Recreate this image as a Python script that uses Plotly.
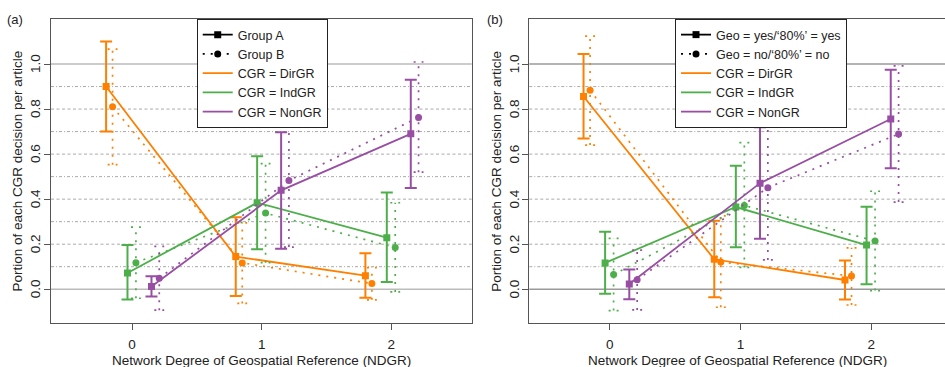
import plotly.graph_objects as go

# ---------------- data ----------------
ndgr = [0, 1, 2]
x_ticktext = ["0", "1", "2"]
y_tickvals = [0.0, 0.2, 0.4, 0.6, 0.8, 1.0]
y_ticktext = ["0.0", "0.2", "0.4", "0.6", "0.8", "1.0"]
categories = ["DirGR", "IndGR", "NonGR"]

# panel (a): Group A / Group B
a_dir_A = [0.90, 0.145, 0.060]
a_dir_A_lo = [0.70, -0.030, -0.038]
a_dir_A_hi = [1.10, 0.320, 0.160]
a_dir_B = [0.81, 0.117, 0.025]
a_dir_B_lo = [0.553, -0.063, -0.047]
a_dir_B_hi = [1.066, 0.295, 0.096]
a_ind_A = [0.072, 0.384, 0.229]
a_ind_A_lo = [-0.046, 0.177, 0.032]
a_ind_A_hi = [0.196, 0.590, 0.430]
a_ind_B = [0.118, 0.338, 0.185]
a_ind_B_lo = [-0.040, 0.118, -0.012]
a_ind_B_hi = [0.276, 0.558, 0.384]
a_non_A = [0.012, 0.439, 0.690]
a_non_A_lo = [-0.032, 0.180, 0.450]
a_non_A_hi = [0.058, 0.697, 0.930]
a_non_B = [0.049, 0.483, 0.763]
a_non_B_lo = [-0.093, 0.187, 0.520]
a_non_B_hi = [0.190, 0.786, 1.009]

# panel (b): Geo yes / Geo no
b_dir_A = [0.856, 0.133, 0.041]
b_dir_A_lo = [0.669, -0.036, -0.046]
b_dir_A_hi = [1.045, 0.304, 0.127]
b_dir_B = [0.884, 0.121, 0.059]
b_dir_B_lo = [0.640, -0.080, -0.070]
b_dir_B_hi = [1.124, 0.326, 0.184]
b_ind_A = [0.117, 0.365, 0.196]
b_ind_A_lo = [-0.020, 0.186, 0.022]
b_ind_A_hi = [0.255, 0.548, 0.366]
b_ind_B = [0.065, 0.372, 0.214]
b_ind_B_lo = [-0.095, 0.097, -0.006]
b_ind_B_hi = [0.226, 0.651, 0.435]
b_non_A = [0.023, 0.471, 0.756]
b_non_A_lo = [-0.044, 0.224, 0.537]
b_non_A_hi = [0.088, 0.719, 0.975]
b_non_B = [0.042, 0.451, 0.689]
b_non_B_lo = [-0.092, 0.130, 0.387]
b_non_B_hi = [0.174, 0.772, 0.992]

grid_solid = [0.0, 1.0]
grid_dash = [0.2, 0.4, 0.6, 0.8]
grid_dashdot = [0.1, 0.3, 0.5, 0.7, 0.9]

x_title = "Network Degree of Geospatial Reference (NDGR)"
y_title = "Portion of each CGR decision per article"

# ---------------- style ----------------
COLORS = {"DirGR": "#FF7F00", "IndGR": "#4DAF4A", "NonGR": "#984EA3"}
DODGE = {("DirGR", "A"): -0.20, ("DirGR", "B"): -0.15,
         ("IndGR", "A"): -0.035, ("IndGR", "B"): 0.03,
         ("NonGR", "A"): 0.15, ("NonGR", "B"): 0.21}
CAP_B = 0.038
DOT = "2px,6px"
FONT = "Liberation Sans, Arial, Helvetica, sans-serif"
TXT = "#222222"
FS = 13.5

panels = {
    "a": {"DirGR": (a_dir_A, a_dir_A_lo, a_dir_A_hi, a_dir_B, a_dir_B_lo, a_dir_B_hi),
          "IndGR": (a_ind_A, a_ind_A_lo, a_ind_A_hi, a_ind_B, a_ind_B_lo, a_ind_B_hi),
          "NonGR": (a_non_A, a_non_A_lo, a_non_A_hi, a_non_B, a_non_B_lo, a_non_B_hi)},
    "b": {"DirGR": (b_dir_A, b_dir_A_lo, b_dir_A_hi, b_dir_B, b_dir_B_lo, b_dir_B_hi),
          "IndGR": (b_ind_A, b_ind_A_lo, b_ind_A_hi, b_ind_B, b_ind_B_lo, b_ind_B_hi),
          "NonGR": (b_non_A, b_non_A_lo, b_non_A_hi, b_non_B, b_non_B_lo, b_non_B_hi)},
}

fig = go.Figure()

for pkey, xa, ya in [("a", "x", "y"), ("b", "x2", "y2")]:
    for cat in categories:
        mA, loA, hiA, mB, loB, hiB = panels[pkey][cat]
        col = COLORS[cat]
        xB = [v + DODGE[(cat, "B")] for v in ndgr]
        xA = [v + DODGE[(cat, "A")] for v in ndgr]
        # Group B dotted error bars
        ex, ey = [], []
        for xi, lo, hi in zip(xB, loB, hiB):
            ex += [xi, xi, None, xi - CAP_B, xi + CAP_B, None, xi - CAP_B, xi + CAP_B, None]
            ey += [lo, hi, None, lo, lo, None, hi, hi, None]
        fig.add_trace(go.Scatter(x=ex, y=ey, xaxis=xa, yaxis=ya, mode="lines",
                                 line=dict(color=col, width=1.7, dash=DOT),
                                 showlegend=False, hoverinfo="skip"))
        # Group B dotted line + circles
        fig.add_trace(go.Scatter(x=xB, y=mB, xaxis=xa, yaxis=ya, mode="lines+markers",
                                 line=dict(color=col, width=1.7, dash=DOT),
                                 marker=dict(symbol="circle", size=7, color=col),
                                 showlegend=False))
        # Group A solid line + squares with error bars
        fig.add_trace(go.Scatter(x=xA, y=mA, xaxis=xa, yaxis=ya, mode="lines+markers",
                                 line=dict(color=col, width=1.8),
                                 marker=dict(symbol="square", size=7, color=col),
                                 error_y=dict(type="data", symmetric=False,
                                              array=[h - m for h, m in zip(hiA, mA)],
                                              arrayminus=[m - l for m, l in zip(mA, loA)],
                                              color=col, thickness=2, width=6),
                                 showlegend=False))

# legend-only entries
legend_names = {
    "legend": ["Group A", "Group B"],
    "legend2": ["Geo = yes/\u201880%\u2019 = yes", "Geo = no/\u201880%\u2019 = no"],
}
for lg, (nA, nB) in legend_names.items():
    xa, ya = ("x", "y") if lg == "legend" else ("x2", "y2")
    fig.add_trace(go.Scatter(x=[None], y=[None], xaxis=xa, yaxis=ya, mode="lines+markers", name=nA,
                             line=dict(color="black", width=1.8),
                             marker=dict(symbol="square", size=7, color="black"), legend=lg))
    fig.add_trace(go.Scatter(x=[None], y=[None], xaxis=xa, yaxis=ya, mode="lines+markers", name=nB,
                             line=dict(color="black", width=1.7, dash=DOT),
                             marker=dict(symbol="circle", size=7, color="black"), legend=lg))
    for cat in categories:
        fig.add_trace(go.Scatter(x=[None], y=[None], xaxis=xa, yaxis=ya, mode="lines",
                                 name="CGR = " + cat,
                                 line=dict(color=COLORS[cat], width=1.8), legend=lg))

# grid lines
shapes = []
for xa, ya, solid_col in [("x", "y", "#bbbbbb"), ("x2", "y2", "#9a9a9a")]:
    for v in grid_solid:
        shapes.append(dict(type="line", xref=xa + " domain", yref=ya, x0=0, x1=1, y0=v, y1=v,
                           line=dict(color=solid_col, width=1.4), layer="below"))
    for v in grid_dash:
        shapes.append(dict(type="line", xref=xa + " domain", yref=ya, x0=0, x1=1, y0=v, y1=v,
                           line=dict(color="#aaaaaa", width=1, dash="3px,2.5px"), layer="below"))
    for v in grid_dashdot:
        shapes.append(dict(type="line", xref=xa + " domain", yref=ya, x0=0, x1=1, y0=v, y1=v,
                           line=dict(color="#aaaaaa", width=1, dash="3px,2px,1px,2px"), layer="below"))

# rotated y tick labels, axis titles (R style)
annotations = []
for xa, ya, lab_shift, title_shift in [("x", "y", -16, -34.5), ("x2", "y2", -15, -33.5)]:
    for v, t in zip(y_tickvals, y_ticktext):
        annotations.append(dict(text=t, xref=xa + " domain", yref=ya, x=0, y=v, xshift=lab_shift,
                                xanchor="center", yanchor="middle", textangle=-90, showarrow=False,
                                font=dict(size=FS, color=TXT, family=FONT)))
    annotations.append(dict(text=y_title, xref=xa + " domain", yref=ya + " domain", x=0, y=0.5,
                            xshift=title_shift, xanchor="center", yanchor="middle", textangle=-90,
                            showarrow=False, font=dict(size=FS, color=TXT, family=FONT)))
    annotations.append(dict(text=x_title, xref=xa + " domain", yref=ya + " domain", x=0.5, y=0,
                            yshift=-37.5, xanchor="center", yanchor="middle", showarrow=False,
                            font=dict(size=FS, color=TXT, family=FONT)))
annotations += [
    dict(text="(a)", xref="paper", yref="paper", x=-0.040, y=1.0, xanchor="center",
         yanchor="middle", showarrow=False, font=dict(size=13, color=TXT, family=FONT)),
    dict(text="(b)", xref="paper", yref="paper", x=0.497, y=1.0, xanchor="center",
         yanchor="middle", showarrow=False, font=dict(size=13, color=TXT, family=FONT)),
]

axis_common = dict(showline=True, linecolor="#555555", linewidth=1.2, ticks="outside",
                   ticklen=6, tickcolor="#555555", showgrid=False, zeroline=False,
                   automargin=False,
                   tickfont=dict(size=FS, color=TXT, family=FONT))

fig.update_layout(
    template="none",
    width=945, height=367,
    margin=dict(l=51, r=0, t=19, b=44, autoexpand=False),
    paper_bgcolor="white", plot_bgcolor="white",
    font=dict(family=FONT, color=TXT),
    xaxis=dict(domain=[0, 0.4706], range=[-0.625, 2.62], tickvals=ndgr, ticktext=x_ticktext,
               mirror=True, ticklabelstandoff=3, **axis_common),
    yaxis=dict(range=[-0.15, 1.2], tickvals=y_tickvals, showticklabels=False,
               mirror=True, **axis_common),
    xaxis2=dict(domain=[0.535, 1.0], range=[-0.615, 2.565], tickvals=ndgr, ticktext=x_ticktext,
                mirror=True, anchor="y2", ticklabelstandoff=3, **axis_common),
    yaxis2=dict(range=[-0.15, 1.2], tickvals=y_tickvals, showticklabels=False,
                mirror=False, anchor="x2", **axis_common),
    legend=dict(x=0.163, y=1.0, xanchor="left", yanchor="top", bgcolor="white",
                bordercolor="#222222", borderwidth=1, font=dict(size=12.5, color=TXT, family=FONT),
                itemwidth=30, tracegroupgap=0),
    legend2=dict(x=0.698, y=1.0, xanchor="left", yanchor="top", bgcolor="white",
                 bordercolor="#222222", borderwidth=1, font=dict(size=12.5, color=TXT, family=FONT),
                 itemwidth=30, tracegroupgap=0),
    shapes=shapes,
    annotations=annotations,
)

fig.write_html("out.html", config={"displayModeBar": False},
               post_script="document.body.style.margin='0px';document.body.style.overflow='hidden';")
